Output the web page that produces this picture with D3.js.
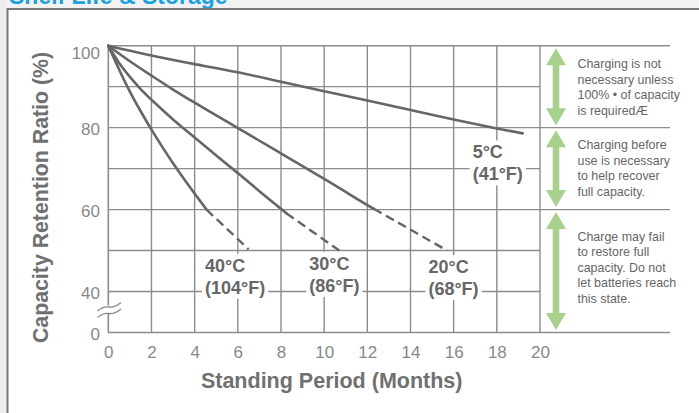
<!DOCTYPE html>
<html><head><meta charset="utf-8">
<script src="https://cdn.jsdelivr.net/npm/d3@7"></script>
<style>body{margin:0;background:#fff} svg{display:block}</style>
</head><body>
<svg id="c" width="699" height="413"></svg>
<script>
// ---- data ----
const title = "Shelf Life & Storage";
const xTicks = [0, 2, 4, 6, 8, 10, 12, 14, 16, 18, 20];
const yTicks = [30, 40, 60, 80, 100];           // 30 = broken-axis bottom, labelled "0"
const yTickLabels = ["0", "40", "60", "80", "100"];
const yMinorGrid = [90, 70, 50];
const yMajorGrid = [100, 80, 60];

const solid5C  = [[0,100],[2,97.6],[4,95.5],[6,93.5],[8,91.2],[10,88.9],[12,86.6],[14,84.3],[16,82.0],[18,79.8],[19.2,78.6]];
const solid20C = [[0,100],[1,96.2],[2,92.7],[3,89.3],[4,86.1],[5,83.0],[6,79.9],[7,76.8],[8,73.7],[9,70.6],[10,67.5],[11,64.3],[12,61.1],[12.3,60.2]];
const dash20C  = [[12.3,60.2],[15.7,50]];
const solid30C = [[0,100],[0.5,95.8],[1,92.4],[1.5,89.4],[2,86.8],[3,82.0],[4,77.6],[5,73.2],[6,68.9],[7,64.5],[8,60.2],[8.25,59.1]];
const dash30C  = [[8.25,59.1],[10.7,50]];
const solid40C = [[0,100],[0.5,94.2],[1,88.8],[1.5,84.0],[2,79.5],[2.5,75.3],[3,71.3],[3.5,67.5],[4,63.9],[4.55,60]];
const dash40C  = [[4.55,60],[6.5,50.3]];

const labelC = ["5°C", "20°C", "30°C", "40°C"];
const labelF = ["(41°F)", "(68°F)", "(86°F)", "(104°F)"];

const zones = [[100, 80], [80, 60], [60, 30]];
const notes = [
  ["Charging is not", "necessary unless", "100% • of capacity", "is requiredÆ"],
  ["Charging before", "use is necessary", "to help recover", "full capacity."],
  ["Charge may fail", "to restore full", "capacity. Do not", "let batteries reach", "this state."]
];
const xTitle = "Standing Period (Months)";
const yTitle = "Capacity Retention Ratio (%)";

// ---- layout ----
const svg = d3.select("#c");
const x = d3.scaleLinear([0, 20], [108.3, 540]);
const y = d3.scaleLinear([30, 100], [332.5, 45.7]);
const gridColor = "#8c8c8c", inkColor = "#666";
const font = "'Liberation Sans', Arial, Helvetica, sans-serif";

svg.append("rect").attr("width", 699).attr("height", 413).attr("fill", "#fff");
svg.append("rect").attr("width", 699).attr("height", 8).attr("fill", "#f2f2f2");
svg.append("rect").attr("width", 7).attr("height", 413).attr("fill", "#ededed");
svg.append("text").attr("x", 9).attr("y", 3.5).attr("font-family", font).attr("font-weight", "bold")
  .attr("font-size", 23).attr("fill", "#1ba1dc").text(title);
svg.append("path").attr("d", "M7.5,413V9H699").attr("fill", "none").attr("stroke", "#787878").attr("stroke-width", 2);

const g = svg.append("g");
// vertical grid
g.selectAll(".vg").data(xTicks.filter(d => d > 0)).join("line")
  .attr("x1", d => x(d)).attr("x2", d => x(d)).attr("y1", y(100)).attr("y2", y(30))
  .attr("stroke", gridColor).attr("stroke-width", 1.4);
// horizontal grid
g.selectAll(".hg").data([...yMinorGrid, 40]).join("line")
  .attr("x1", x(0)).attr("x2", x(20)).attr("y1", d => y(d)).attr("y2", d => y(d))
  .attr("stroke", gridColor).attr("stroke-width", 1.4);
g.selectAll(".hM").data([...yMajorGrid, 30]).join("line")
  .attr("x1", x(0)).attr("x2", 670).attr("y1", d => y(d)).attr("y2", d => y(d))
  .attr("stroke", gridColor).attr("stroke-width", 1.4);
// y axis line with break
g.append("line").attr("x1", x(0)).attr("x2", x(0)).attr("y1", y(100)).attr("y2", 305.5)
  .attr("stroke", gridColor).attr("stroke-width", 1.6);
g.append("line").attr("x1", x(0)).attr("x2", x(0)).attr("y1", 313).attr("y2", y(30))
  .attr("stroke", gridColor).attr("stroke-width", 1.6);
[0, 6.5].forEach(o => {
  g.append("path").attr("d", `M97.5,${311 + o} q6,-5 11.5,-4 t12,-4.5`)
    .attr("fill", "none").attr("stroke", gridColor).attr("stroke-width", 1.4);
});

// axes (labels only)
const xAxis = svg.append("g").attr("transform", `translate(0,${y(30)})`)
  .call(d3.axisBottom(x).tickValues(xTicks).tickSize(0).tickFormat(d3.format("d")));
xAxis.select(".domain").remove();
xAxis.selectAll("text").attr("y", 25.8).attr("dy", 0)
  .attr("font-family", font).attr("font-size", 17).attr("fill", "#888");

const yAxis = svg.append("g").attr("transform", `translate(${x(0)},0)`)
  .call(d3.axisLeft(y).tickValues(yTicks).tickSize(0).tickPadding(8.3)
    .tickFormat((d, i) => yTickLabels[i]));
yAxis.select(".domain").remove();
yAxis.selectAll("text").attr("dy", d => d === 100 ? "13px" : "7px")
  .attr("font-family", font).attr("font-size", 17).attr("fill", "#888");

// curves
const line = d3.line().x(d => x(d[0])).y(d => y(d[1])).curve(d3.curveNatural);
[solid5C, solid20C, solid30C, solid40C].forEach(s => {
  svg.append("path").attr("d", line(s)).attr("fill", "none").attr("stroke", inkColor)
    .attr("stroke-width", 2.6).attr("stroke-linecap", "round");
});
[dash20C, dash30C, dash40C].forEach(s => {
  svg.append("path").attr("d", line(s)).attr("fill", "none").attr("stroke", inkColor)
    .attr("stroke-width", 2.4).attr("stroke-dasharray", "9,5");
});

// curve labels (anchor in data coords: left edge, first baseline)
const labelAnchors = [[16.88, 72.5], [14.83, 44.5], [9.31, 45.3], [4.48, 44.8]];
labelC.forEach((c, i) => {
  const lg = svg.append("g").attr("transform", `translate(${x(labelAnchors[i][0])},${y(labelAnchors[i][1])})`);
  const bg = lg.append("rect").attr("fill", "#fff");
  lg.append("text").attr("x", 0).attr("y", 0).text(c);
  lg.append("text").attr("x", 0).attr("y", 22).text(labelF[i]);
  lg.selectAll("text").attr("font-family", font).attr("font-weight", "bold")
    .attr("font-size", 18).attr("fill", inkColor);
  const bb = lg.node().getBBox();
  bg.attr("x", bb.x - 3).attr("y", bb.y - 2).attr("width", bb.width + 6).attr("height", bb.height + 3);
});

// zone arrows
const cx = 556, hw = 10, hh = 17, sw = 3.3;
svg.selectAll(".arr").data(zones).join("polygon")
  .attr("points", d => {
    const t = y(d[0]) + 2.5, b = y(d[1]) - 2.5;
    return [[cx, t], [cx + hw, t + hh], [cx + sw, t + hh], [cx + sw, b - hh], [cx + hw, b - hh], [cx, b],
            [cx - hw, b - hh], [cx - sw, b - hh], [cx - sw, t + hh], [cx - hw, t + hh]].map(p => p.join(",")).join(" ");
  })
  .attr("fill", "#a9d18e");

// notes
const noteBase = [68.3, 149.3, 240.7];
notes.forEach((lines, i) => {
  const tg = svg.append("g").attr("transform", `translate(577.5,${noteBase[i]}) scale(0.92,1)`);
  lines.forEach((t, j) => {
    tg.append("text").attr("x", 0).attr("y", j * 15.6).text(t)
      .attr("font-family", font).attr("font-size", 13.5).attr("fill", inkColor);
  });
});

// axis titles
svg.append("text").attr("x", 331.7).attr("y", 388.3).attr("text-anchor", "middle")
  .attr("font-family", font).attr("font-weight", "bold").attr("font-size", 21.5)
  .attr("fill", "#707070").text(xTitle);
svg.append("text").attr("transform", "translate(48,197.5) rotate(-90)").attr("text-anchor", "middle")
  .attr("font-family", font).attr("font-weight", "bold").attr("font-size", 21.3)
  .attr("fill", "#707070").text(yTitle);
</script></body></html>
